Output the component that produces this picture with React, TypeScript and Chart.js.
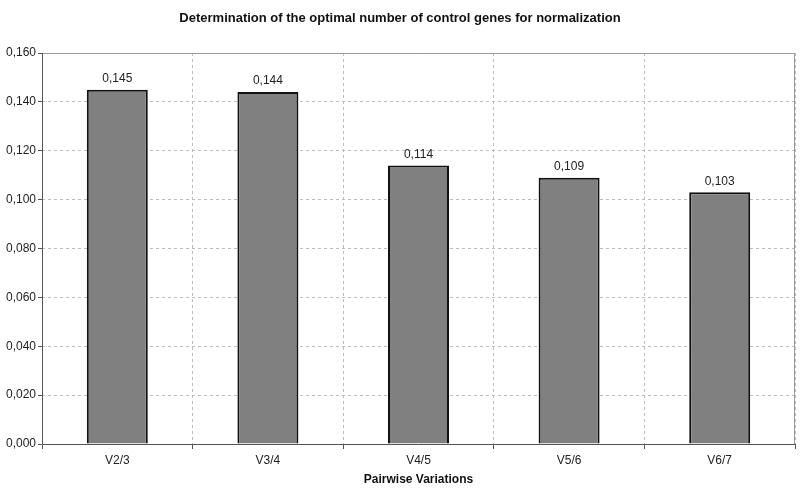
import React, { useEffect, useRef } from "react";
import { Chart, registerables } from "chart.js";

Chart.register(...registerables);

const categories = ["V2/3", "V3/4", "V4/5", "V5/6", "V6/7"];
const values = [0.145, 0.144, 0.114, 0.109, 0.103];
const yMin = 0;
const yMax = 0.16;
const yStep = 0.02;
const titleText = "Determination of the optimal number of control genes for normalization";
const xTitle = "Pairwise Variations";

const FONT = "'Liberation Sans', Arial, sans-serif";
const fmt = (v: number) => v.toFixed(3).replace(".", ",");

export default function App() {
  const ref = useRef<HTMLCanvasElement | null>(null);
  useEffect(() => {
    if (!ref.current) return;
    const decor = {
      id: "decor",
      afterDatasetsDraw(chart: any) {
        const ctx = chart.ctx;
        const meta = chart.getDatasetMeta(0);
        ctx.save();
        ctx.font = `12px ${FONT}`;
        ctx.fillStyle = "#222";
        ctx.textAlign = "center";
        ctx.textBaseline = "bottom";
        meta.data.forEach((bar: any, i: number) => {
          ctx.fillText(fmt(values[i]), bar.x, bar.y - 5);
        });
        ctx.restore();
      },
      afterDraw(chart: any) {
        const ctx = chart.ctx;
        const a = chart.chartArea;
        ctx.save();
        ctx.setLineDash([]);
        ctx.lineWidth = 1;
        ctx.strokeStyle = "#9a9a9a";
        ctx.beginPath();
        ctx.moveTo(a.left, a.top + 0.5);
        ctx.lineTo(a.right - 0.5, a.top + 0.5);
        ctx.lineTo(a.right - 0.5, a.bottom);
        ctx.stroke();
        ctx.strokeStyle = "#555";
        ctx.beginPath();
        ctx.moveTo(a.left + 0.5, a.top);
        ctx.lineTo(a.left + 0.5, a.bottom + 0.5);
        ctx.lineTo(a.right, a.bottom + 0.5);
        ctx.stroke();
        ctx.fillStyle = "#111";
        ctx.textAlign = "center";
        ctx.textBaseline = "middle";
        ctx.font = `bold 13px ${FONT}`;
        ctx.fillText(titleText, 400, 18);
        ctx.font = `bold 12px ${FONT}`;
        ctx.fillText(xTitle, (a.left + a.right) / 2, 480);
        ctx.restore();
      },
    };
    const chart = new Chart(ref.current, {
      type: "bar",
      data: {
        labels: categories,
        datasets: [
          {
            data: values,
            backgroundColor: "#808080",
            borderColor: "#111",
            borderWidth: 2,
            categoryPercentage: 1,
            barPercentage: 0.405,
          },
        ],
      },
      options: {
        animation: false,
        responsive: true,
        maintainAspectRatio: false,
        layout: { padding: { top: 53, right: 5, left: 0, bottom: 0 } },
        plugins: { legend: { display: false }, tooltip: { enabled: false }, title: { display: false } },
        scales: {
          x: {
            afterFit: (s: any) => {
              s.height = 45;
            },
            grid: {
              color: "#bdbdbd",
              tickColor: "#555",
              tickLength: 5,
              tickBorderDash: [],
              offset: true,
            },
            border: { display: false, dash: [3, 3] },
            ticks: { color: "#222", font: { family: FONT, size: 12 }, padding: 4 },
          },
          y: {
            min: yMin,
            max: yMax,
            afterFit: (s: any) => {
              s.width = 42;
            },
            grid: {
              color: "#bdbdbd",
              tickColor: "#555",
              tickLength: 4,
              tickBorderDash: [],
            },
            border: { display: false, dash: [3, 3] },
            ticks: {
              stepSize: yStep,
              color: "#222",
              font: { family: FONT, size: 12 },
              padding: 2,
              callback: (v: any) => fmt(Number(v)),
            },
          },
        },
      },
      plugins: [decor],
    });
    return () => chart.destroy();
  }, []);
  return (
    <div style={{ position: "absolute", left: 0, top: 0, width: 800, height: 489, background: "#fff" }}>
      <canvas ref={ref} />
    </div>
  );
}
